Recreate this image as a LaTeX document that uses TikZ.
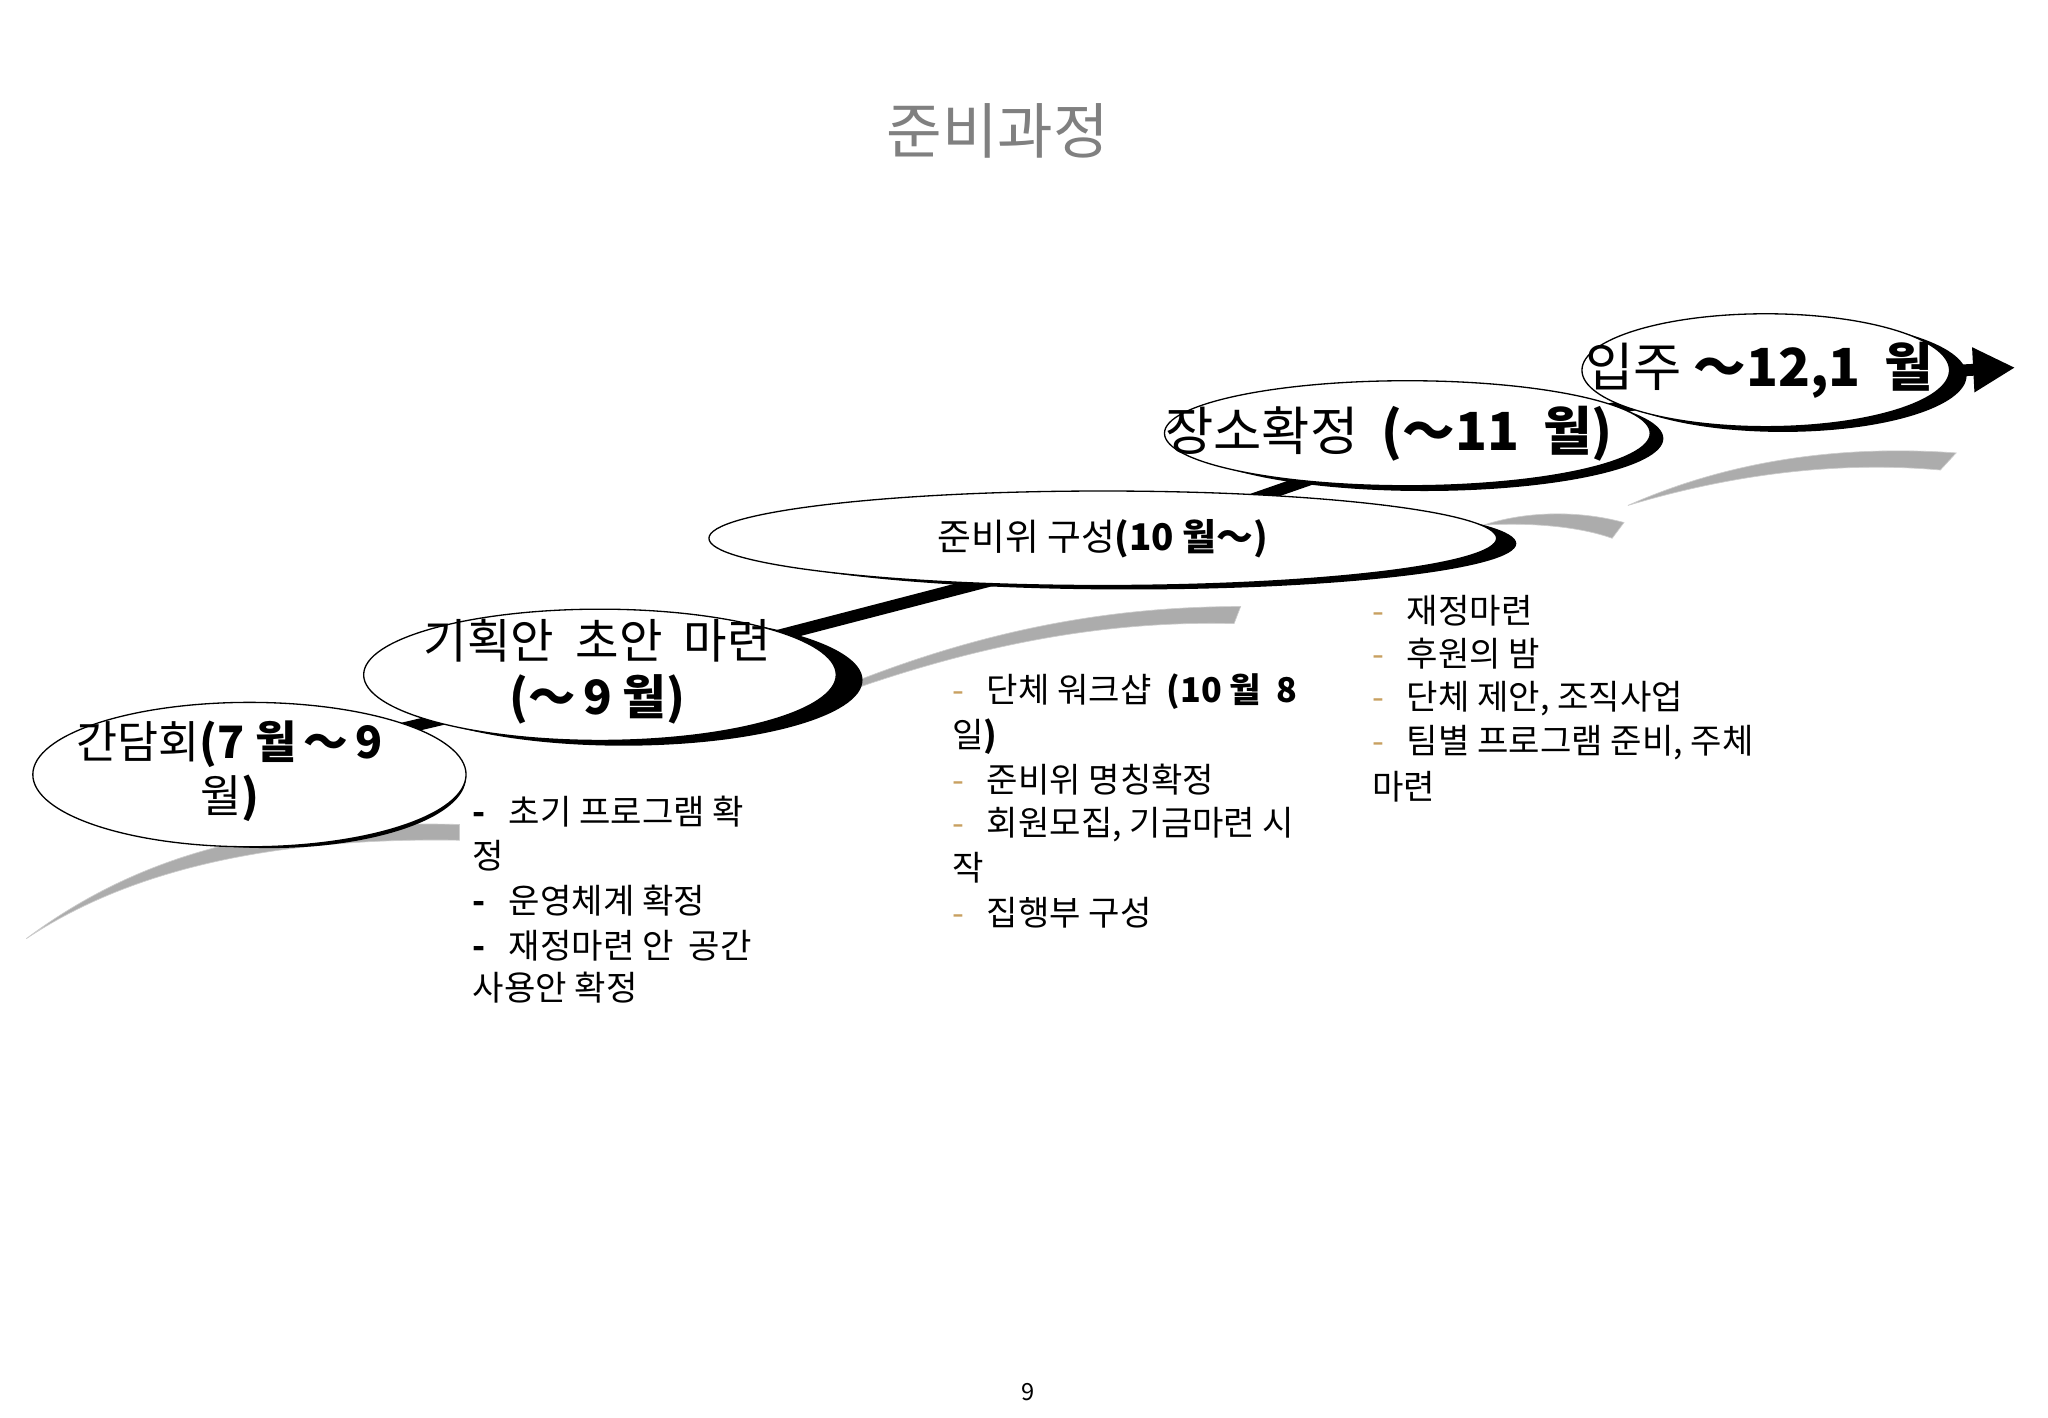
\documentclass[tikz,border=0pt]{standalone}
\usepackage{fontspec}
\setmainfont{Noto Sans CJK KR}
\usetikzlibrary{arrows.meta}
\definecolor{tan}{HTML}{C8A060}
\newcommand{\tl}{{\char"FF5E}}
\tikzset{
 swoosh/.style={fill=gray!65,draw=gray!40,line width=0.5pt},
 li/.style={anchor=west,inner sep=0pt,font=\fontsize{26}{28}\selectfont},
}
\begin{document}
\begin{tikzpicture}[x=1pt,y=-1pt]
\useasboundingbox[fill=white] (0,0) rectangle (1560,1080);
\node (title) at (760,100) {\color{gray}\fontsize{46}{48}\selectfont 준비과정};
% swooshes
\fill[swoosh] (20,715) .. controls (120,640) and (230,625) .. (350,628) -- (350,640) .. controls (230,638) and (110,655) .. (20,715) -- cycle;
\fill[swoosh] (560,560) .. controls (700,490) and (820,462) .. (945,462) -- (940,475) .. controls (820,472) and (700,500) .. (560,560) -- cycle;
\fill[swoosh] (1130,400) .. controls (1160,390) and (1200,388) .. (1237,398) -- (1228,410) .. controls (1200,400) and (1160,398) .. (1130,400) -- cycle;
\fill[swoosh] (1240,385) .. controls (1330,345) and (1420,340) .. (1490,345) -- (1478,358) .. controls (1410,352) and (1330,358) .. (1240,385) -- cycle;
% connecting arrow
\coordinate (tip) at (1535,280);
\draw[line width=9pt,-{Triangle[length=32pt,width=32pt]}] (200,580) -- (455,520) -- (840,420) -- (1070,340) -- (1345,290) -- (tip);
% ellipses with shadows
\fill (205,592) ellipse [x radius=150,y radius=54];
\draw[line width=1pt,fill=white] (190,590) ellipse [x radius=165,y radius=55];
\node (e1) at (175,590) {\fontsize{34}{40}\selectfont\begin{tabular}{c}간담회\textbf{(7 월\,\tl\,9}\\월\textbf{)}\end{tabular}};
\fill (475,518) ellipse [x radius=182,y radius=50];
\draw[line width=1pt,fill=white] (457,514) ellipse [x radius=180,y radius=50];
\node (e2) at (455,514) {\fontsize{36}{40}\selectfont\begin{tabular}{c}기획안\ \ 초안\ \ 마련\\\textbf{(\tl\,9 월)}\end{tabular}};
\fill (860,414) ellipse [x radius=295,y radius=35];
\draw[line width=1pt,fill=white] (840,410) ellipse [x radius=300,y radius=36];
\node (e3) at (840,410) {\fontsize{28}{32}\selectfont 준비위 구성\textbf{(10 월\tl)}};
\fill (1085,334) ellipse [x radius=182,y radius=40];
\draw[line width=1pt,fill=white] (1072,330) ellipse [x radius=185,y radius=40];
\node (e4) at (1058,330) {\fontsize{40}{42}\selectfont 장소확정\ \ \textbf{(\tl 11\ \ 월)}};
\fill (1358,286) ellipse [x radius=140,y radius=43];
\draw[line width=1pt,fill=white] (1345,282) ellipse [x radius=140,y radius=43];
\node (e5) at (1340,282) {\fontsize{40}{42}\selectfont 입주 \textbf{\tl 12,1\ \ 월}};
% list 1
\node[li] (a1) at (360,618) {\textbf{-}\ \ \ 초기 프로그램 확};
\node[li] (a2) at (360,652) {정};
\node[li] (a3) at (360,686) {\textbf{-}\ \ \ 운영체계 확정};
\node[li] (a4) at (360,720) {\textbf{-}\ \ \ 재정마련 안\ \ 공간};
\node[li] (a5) at (360,752) {사용안 확정};
% list 2
\node[li] (b1) at (725,527) {{\color{tan}-}\ \ \ 단체 워크샵\ \ \textbf{(10 월\ \ 8}};
\node[li] (b2) at (725,561) {일\textbf{)}};
\node[li] (b3) at (725,594) {{\color{tan}-}\ \ \ 준비위 명칭확정};
\node[li] (b4) at (725,628) {{\color{tan}-}\ \ \ 회원모집,\ 기금마련 시};
\node[li] (b5) at (725,661) {작};
\node[li] (b6) at (725,695) {{\color{tan}-}\ \ \ 집행부 구성};
% list 3
\node[li] (c1) at (1045,465) {{\color{tan}-}\ \ \ 재정마련};
\node[li] (c2) at (1045,498) {{\color{tan}-}\ \ \ 후원의 밤};
\node[li] (c3) at (1045,532) {{\color{tan}-}\ \ \ 단체 제안,\ 조직사업};
\node[li] (c4) at (1045,566) {{\color{tan}-}\ \ \ 팀별 프로그램 준비,\ 주체};
\node[li] (c5) at (1045,599) {마련};
\node (pg) at (783,1060) {\fontsize{18}{20}\selectfont 9};
\end{tikzpicture}
\end{document}
